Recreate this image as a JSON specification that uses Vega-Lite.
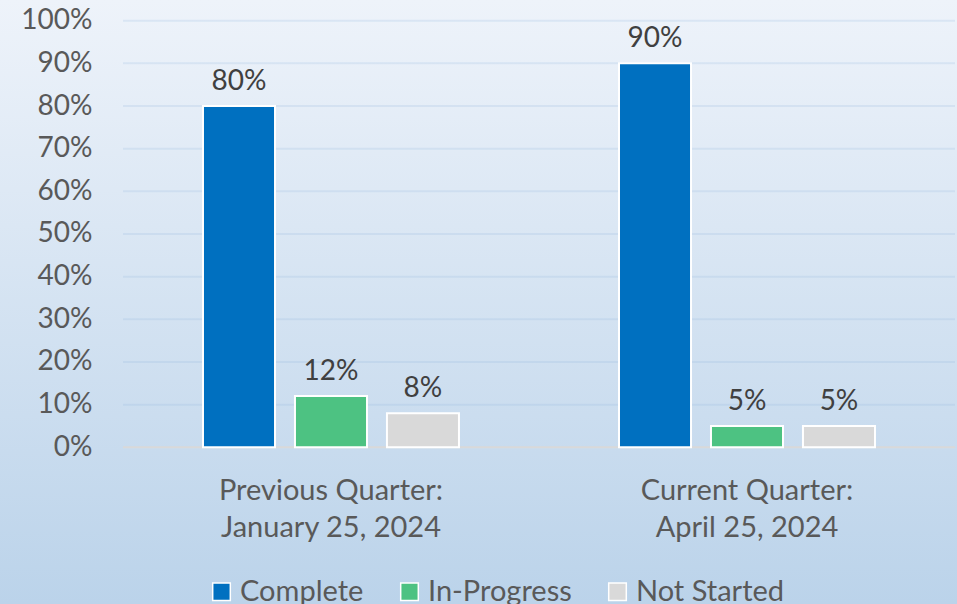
{
  "$schema": "https://vega.github.io/schema/vega-lite/v6.json",
  "width": 957,
  "height": 604,
  "autosize": {"type": "none"},
  "padding": 0,
  "background": "#bed5eb",
  "config": {
    "font": "Lato",
    "view": {
      "stroke": null,
      "fill": {
        "gradient": "linear",
        "x1": 0, "y1": 0, "x2": 0, "y2": 1,
        "stops": [
          {"offset": 0, "color": "#eef3fa"},
          {"offset": 1, "color": "#bbd3ea"}
        ]
      }
    }
  },
  "datasets": {
    "bars": [
      {"period": "Previous Quarter:|January 25, 2024", "status": "Complete", "value": 0.80},
      {"period": "Previous Quarter:|January 25, 2024", "status": "In-Progress", "value": 0.12},
      {"period": "Previous Quarter:|January 25, 2024", "status": "Not Started", "value": 0.08},
      {"period": "Current Quarter:|April 25, 2024", "status": "Complete", "value": 0.90},
      {"period": "Current Quarter:|April 25, 2024", "status": "In-Progress", "value": 0.05},
      {"period": "Current Quarter:|April 25, 2024", "status": "Not Started", "value": 0.05}
    ],
    "grid": [
      {"tick": 0}, {"tick": 0.1}, {"tick": 0.2}, {"tick": 0.3}, {"tick": 0.4}, {"tick": 0.5},
      {"tick": 0.6}, {"tick": 0.7}, {"tick": 0.8}, {"tick": 0.9}, {"tick": 1}
    ]
  },
  "resolve": {"scale": {"x": "independent"}, "axis": {"x": "independent"}},
  "layer": [
    {
      "data": {"name": "grid"},
      "mark": {"type": "rule", "strokeWidth": 2},
      "encoding": {
        "x": {"datum": 0, "type": "quantitative", "scale": {"domain": [-0.14784, 1.0024], "nice": false, "zero": false}, "axis": null},
        "x2": {"datum": 1},
        "y": {
          "field": "tick",
          "type": "quantitative",
          "scale": {"domain": [-0.3673, 1.0485], "nice": false, "zero": false},
          "axis": {
            "title": null,
            "format": ".0%",
            "values": [0, 0.1, 0.2, 0.3, 0.4, 0.5, 0.6, 0.7, 0.8, 0.9, 1],
            "labelFontSize": 28,
            "labelColor": "#595959",
            "labelPadding": 31,
            "offset": -123,
            "domain": false,
            "ticks": false,
            "grid": false
          }
        },
        "stroke": {"condition": {"test": "datum.tick === 0", "value": "#d9d9d9"}, "value": "#8fb4dc"},
        "strokeOpacity": {"condition": {"test": "datum.tick === 0", "value": 1}, "value": 0.2}
      }
    },
    {
      "data": {"name": "bars"},
      "encoding": {
        "x": {
          "field": "period",
          "type": "nominal",
          "sort": null,
          "scale": {"paddingInner": 0, "paddingOuter": 0.1502, "align": 0.984},
          "axis": {
            "title": null,
            "labelAngle": 0,
            "labelExpr": "split(datum.label, '|')",
            "labelFontSize": 29,
            "labelColor": "#595959",
            "labelLineHeight": 37,
            "labelPadding": 28,
            "labelBaseline": "top",
            "labelLimit": 0,
            "offset": -156,
            "domain": false,
            "ticks": false
          }
        },
        "xOffset": {
          "field": "status",
          "type": "nominal",
          "sort": ["Complete", "In-Progress", "Not Started"],
          "scale": {"paddingInner": 0.217, "paddingOuter": 0.87}
        },
        "y": {"field": "value", "type": "quantitative"}
      },
      "layer": [
        {
          "mark": {"type": "bar", "stroke": "white", "strokeWidth": 2},
          "encoding": {
            "color": {
              "field": "status",
              "type": "nominal",
              "scale": {"domain": ["Complete", "In-Progress", "Not Started"], "range": ["#0070C0", "#4DC282", "#D9D9D9"]},
              "legend": {
                "title": null,
                "orient": "none",
                "legendX": 207,
                "legendY": 577,
                "direction": "horizontal",
                "symbolType": "square",
                "symbolSize": 310,
                "symbolStrokeColor": "white",
                "symbolStrokeWidth": 1.5,
                "symbolOpacity": 1,
                "labelFontSize": 29,
                "labelColor": "#595959",
                "labelOffset": 4,
                "columnPadding": 31
              }
            }
          }
        },
        {
          "mark": {"type": "text", "dy": -24, "fontSize": 28, "color": "#404040"},
          "encoding": {
            "text": {"field": "value", "type": "quantitative", "format": ".0%"}
          }
        }
      ]
    }
  ]
}
